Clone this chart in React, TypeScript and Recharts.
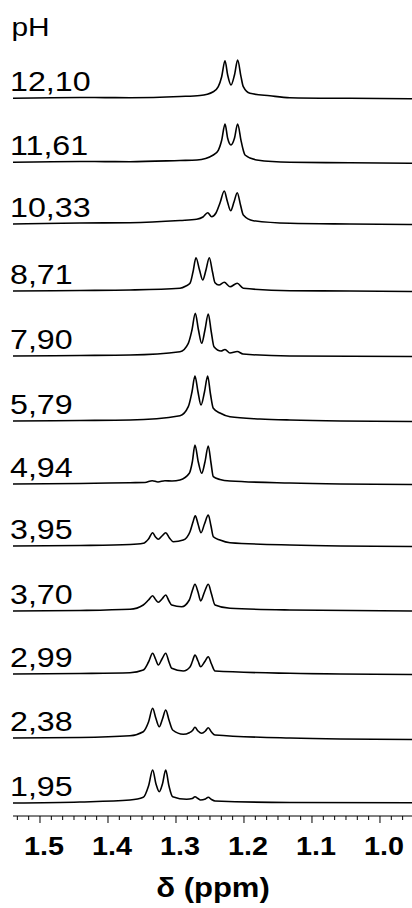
import { LineChart, Line, XAxis, YAxis, ReferenceDot } from "recharts";

const FONT = "Arial, 'Liberation Sans', Helvetica, sans-serif";
// the original figure is a little wider than tall, text included
const STRETCH = 1.15;

// pH of each spectrum, top to bottom
const PH_LABELS = ["12,10", "11,61", "10,33", "8,71", "7,90", "5,79", "4,94", "3,95", "3,70", "2,99", "2,38", "1,95"];

// vertical stacking of the spectra (intensity units)
const STACK_OFFSETS = [717.7, 653.7, 592, 525, 460, 395, 332, 270, 205, 142, 78, 13];

// [δ ppm, intensity]
const TRACE_1210 = [
  [1.5397, 0], [1.4412, 0.8], [1.3676, 0.6], [1.2941, 1.8], [1.2647, 2.8], [1.2451, 6.6],
  [1.2378, 11.6], [1.2328, 21.6], [1.2279, 37.6], [1.224, 23.3], [1.2191, 13.3], [1.214, 23.3],
  [1.2093, 38.3], [1.2044, 21.6], [1.201, 11.6], [1.1912, 5], [1.1618, 2.5], [1.1324, 0.6],
  [1.0441, 0], [0.9529, -0.4],
];
const TRACE_1161 = [
  [1.5397, 0], [1.4412, 0.8], [1.3676, 0.6], [1.2941, 1.8], [1.2691, 2.3], [1.2451, 7.3],
  [1.2378, 12], [1.2328, 22], [1.2279, 38.3], [1.224, 24], [1.2191, 17.3], [1.214, 24],
  [1.2093, 38.3], [1.2044, 22], [1.201, 12], [1.1985, 7.3], [1.1813, 2.3], [1.1324, 0],
  [1.0441, -0.5], [0.9529, -1],
];
const TRACE_1033 = [
  [1.5397, 0], [1.4412, 1], [1.3676, 1.3], [1.2941, 3.5], [1.2696, 4.7], [1.2603, 7],
  [1.2534, 11.3], [1.2475, 7.3], [1.2412, 11], [1.2353, 21], [1.229, 33], [1.2246, 23],
  [1.2196, 13.3], [1.2147, 22], [1.2099, 31.3], [1.2051, 19], [1.201, 9], [1.1863, 3.3],
  [1.1324, 0.7], [1.0441, 0], [0.9529, -0.5],
];
const TRACE_871 = [
  [1.5397, 0], [1.4412, 0.5], [1.3676, 1], [1.2941, 2.7], [1.2853, 5], [1.2794, 7.7],
  [1.275, 19], [1.2706, 33.3], [1.2654, 21], [1.2607, 11], [1.2559, 21], [1.251, 33.3],
  [1.2463, 19], [1.2426, 8.3], [1.2368, 6], [1.229, 8.7], [1.2206, 4.3], [1.2099, 7.7],
  [1.201, 2.7], [1.1324, 0.3], [1.0441, 0], [0.9529, -0.5],
];
const TRACE_790 = [
  [1.5397, 0], [1.4412, 0.5], [1.3676, 1], [1.2941, 4.3], [1.2819, 12.7], [1.2765, 26],
  [1.2716, 42.7], [1.2669, 26], [1.2622, 12.7], [1.2574, 26], [1.2525, 42], [1.2481, 24],
  [1.2441, 9.3], [1.2338, 5], [1.2279, 6.5], [1.2206, 3], [1.2099, 4.5], [1.2015, 2],
  [1.1324, 0], [0.9529, -0.5],
];
const TRACE_579 = [
  [1.5397, 0], [1.4412, 0.5], [1.3676, 1], [1.2941, 5.3], [1.2819, 14.3], [1.2765, 29],
  [1.2721, 45], [1.2676, 29], [1.2632, 16], [1.2581, 29], [1.2534, 45], [1.2493, 27],
  [1.2451, 12.7], [1.2353, 8], [1.2206, 4.3], [1.1765, 2], [1.1324, 1], [0.9529, -0.5],
];
const TRACE_494 = [
  [1.5397, 0], [1.4412, 0.5], [1.3676, 1.3], [1.3456, 1.5], [1.3349, 3.3], [1.3265, 2],
  [1.3162, 3.3], [1.3059, 3], [1.2941, 4], [1.2804, 10.7], [1.276, 22], [1.2721, 39],
  [1.2672, 22], [1.2622, 10.7], [1.2574, 22], [1.2525, 38], [1.2485, 21], [1.2451, 7.3],
  [1.2353, 4.5], [1.2206, 3], [1.1324, 1], [0.9529, -0.5],
];
const TRACE_395 = [
  [1.5397, 0], [1.4412, 0.5], [1.3676, 1.5], [1.3481, 2.7], [1.3404, 7], [1.3343, 13.3],
  [1.3301, 9], [1.326, 6.7], [1.3206, 10], [1.3151, 13.3], [1.3096, 8], [1.304, 4.3],
  [1.2893, 6], [1.2794, 14.3], [1.275, 24], [1.2716, 30.3], [1.2676, 22], [1.2632, 13.3],
  [1.2581, 22], [1.2525, 31], [1.2485, 20], [1.2451, 9.3], [1.2353, 6], [1.2206, 3.3],
  [1.1324, 1], [0.9529, -0.5],
];
const TRACE_370 = [
  [1.5397, 0], [1.4412, 0.5], [1.3676, 1.7], [1.3481, 6], [1.3404, 11], [1.3343, 15.3],
  [1.3301, 11.5], [1.326, 8.7], [1.3206, 12], [1.3151, 16], [1.3103, 10], [1.3063, 6],
  [1.2916, 4.3], [1.2804, 11], [1.2757, 21], [1.2721, 26.7], [1.2676, 19], [1.2637, 10],
  [1.2581, 19], [1.2525, 26.7], [1.2478, 17], [1.2426, 6], [1.2206, 2.7], [1.1324, 1],
  [0.9529, 0],
];
const TRACE_299 = [
  [1.5397, 0], [1.4412, 0.5], [1.3676, 1.3], [1.3481, 4], [1.3404, 12], [1.3343, 20.7],
  [1.3301, 15], [1.326, 9], [1.3206, 15], [1.3151, 20.7], [1.3103, 12], [1.3063, 5.7],
  [1.2893, 3], [1.2794, 7], [1.2757, 13], [1.2721, 19], [1.2676, 13], [1.2637, 7.3],
  [1.2581, 12], [1.2525, 17.3], [1.2478, 10], [1.2426, 3], [1.1324, 0.7], [0.9529, -0.5],
];
const TRACE_238 = [
  [1.5397, 0], [1.4412, 0.5], [1.3676, 2.3], [1.3481, 6.3], [1.3404, 16], [1.3343, 29.7],
  [1.3297, 20], [1.3246, 11.3], [1.3199, 19], [1.3151, 28], [1.3103, 18], [1.3049, 8],
  [1.2893, 3.7], [1.2804, 5.3], [1.2757, 7.5], [1.2721, 10.7], [1.2676, 7], [1.2622, 4.7],
  [1.2567, 7], [1.2525, 10.3], [1.2478, 6], [1.2426, 3], [1.1324, 0], [0.9529, -1.5],
];
const TRACE_195 = [
  [1.5397, 0], [1.4412, 1], [1.3676, 3], [1.3481, 5.7], [1.3404, 17], [1.3343, 33],
  [1.3294, 19], [1.3246, 11.3], [1.3199, 19], [1.3151, 33], [1.3103, 17], [1.3049, 6.3],
  [1.2843, 3.7], [1.276, 4.5], [1.2721, 6.3], [1.2676, 4.5], [1.264, 3], [1.2567, 4],
  [1.2525, 5.7], [1.2478, 3.5], [1.2426, 2], [1.1324, 0.5], [0.9529, 0.3],
];

const TRACES = [
  TRACE_1210, TRACE_1161, TRACE_1033, TRACE_871, TRACE_790, TRACE_579,
  TRACE_494, TRACE_395, TRACE_370, TRACE_299, TRACE_238, TRACE_195,
];

const X_DOMAIN = [0.9529, 1.5397];
const MINOR_STEP = 0.1 / 6;
const AXIS_TICKS = Array.from({ length: 35 }, (_, i) => +(1.5 - (i - 2) * MINOR_STEP).toFixed(5));

function WideText({ x, y, size, bold, anchor, children }: any) {
  return (
    <text
      transform={`translate(${x},${y}) scale(${STRETCH},1)`}
      fontSize={size}
      fontWeight={bold ? "bold" : "normal"}
      textAnchor={anchor || "start"}
      fill="#000"
      fontFamily={FONT}
    >
      {children}
    </text>
  );
}

function AxisTick({ x, y, payload }: any) {
  const v = payload.value;
  const major = Math.abs(v * 10 - Math.round(v * 10)) < 1e-6;
  return (
    <g>
      <line x1={x} x2={x} y1={y} y2={y + (major ? 7 : 4)} stroke="#000" strokeWidth={1} />
      {major && (
        <WideText x={x + 4} y={y + 39} size={25} bold anchor="middle">
          {v.toFixed(1)}
        </WideText>
      )}
    </g>
  );
}

function PhLabel(text: string) {
  return (props: any) => {
    const vb = props.viewBox || {};
    return (
      <WideText x={vb.x - 3} y={vb.y - 7} size={28}>
        {text}
      </WideText>
    );
  };
}

export default function App() {
  const series = TRACES.map((t, i) => t.map(([ppm, v]) => ({ ppm, y: v + STACK_OFFSETS[i] })));
  return (
    <div style={{ position: "absolute", left: 0, top: 0, width: 412, height: 908, background: "#fff" }}>
      <LineChart width={412} height={908} margin={{ top: 0, right: 0, left: 13, bottom: 0 }}>
        <XAxis
          dataKey="ppm"
          type="number"
          domain={X_DOMAIN}
          reversed
          allowDataOverflow
          ticks={AXIS_TICKS}
          interval={0}
          tickSize={0}
          tickMargin={0}
          tickLine={false}
          tick={<AxisTick />}
          axisLine={{ stroke: "#000", strokeWidth: 1 }}
          height={92}
        />
        <YAxis hide type="number" domain={[0, 816]} allowDataOverflow />
        {series.map((d, i) => (
          <Line
            key={PH_LABELS[i]}
            data={d}
            dataKey="y"
            type="monotone"
            stroke="#000"
            strokeWidth={1.6}
            dot={false}
            activeDot={false}
            isAnimationActive={false}
          />
        ))}
        {PH_LABELS.map((label, i) => (
          <ReferenceDot
            key={"lbl" + label}
            x={X_DOMAIN[1]}
            y={STACK_OFFSETS[i]}
            r={0}
            ifOverflow="visible"
            fill="none"
            stroke="none"
            label={{ content: PhLabel(label) }}
          />
        ))}
        <WideText x={11.5} y={36} size={26}>
          pH
        </WideText>
        <WideText x={213} y={897} size={27} bold anchor="middle">
          δ (ppm)
        </WideText>
      </LineChart>
    </div>
  );
}
